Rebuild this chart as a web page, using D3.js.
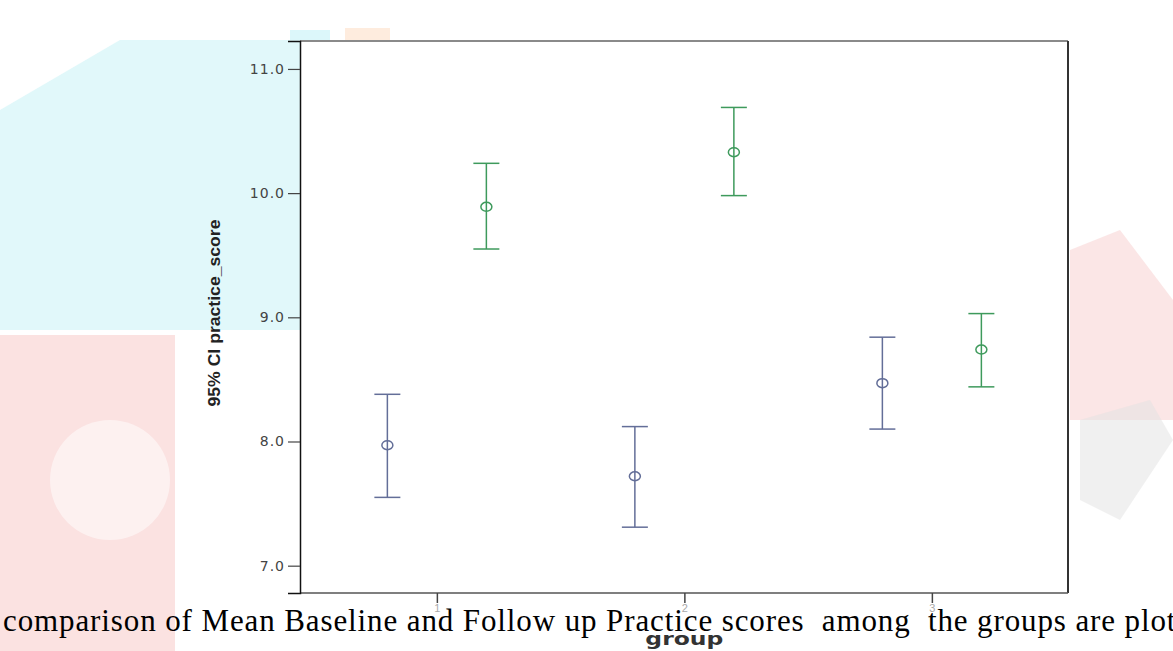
<!DOCTYPE html>
<html>
<head>
<meta charset="utf-8">
<script src="https://cdn.jsdelivr.net/npm/d3@7"></script>
<style>
  body { margin: 0; background: #fff; overflow: hidden; }
  svg { display: block; }
</style>
</head>
<body>
<svg></svg>
<script>
var groups = [1, 2, 3];
var yTicks = [7.0, 8.0, 9.0, 10.0, 11.0];

// baseline (blue) and follow up (green) means with 95% CI
var baseMean  = [7.97, 7.72, 8.47];
var baseLower = [7.55, 7.31, 8.10];
var baseUpper = [8.38, 8.12, 8.84];

var followMean  = [9.89, 10.33, 8.74];
var followLower = [9.55, 9.98, 8.44];
var followUpper = [10.24, 10.69, 9.03];

var caption = "comparison of Mean Baseline and Follow up Practice scores  among  the groups are plott";

var screen = { width: 1173, height: 651 };
var margins = { top: 41, left: 300, right: 105, bottom: 58 };

var width = screen.width - margins.left - margins.right;
var height = screen.height - margins.top - margins.bottom;

var svg = d3.select("svg")
  .attr("width", screen.width)
  .attr("height", screen.height);

// faint watermark shapes in the background
var wm = svg.append("g").classed("watermark", true);
wm.append("path")
  .attr("d", "M0,110 L120,40 L300,40 L300,330 L0,330 Z")
  .attr("fill", "#c4f1f6").attr("opacity", 0.5);
wm.append("path")
  .attr("d", "M0,335 L175,335 L175,651 L0,651 Z")
  .attr("fill", "#f7c6c4").attr("opacity", 0.5);
wm.append("circle")
  .attr("cx", 110).attr("cy", 480).attr("r", 60)
  .attr("fill", "#fff").attr("opacity", 0.5);
wm.append("path")
  .attr("d", "M1070,250 L1120,230 L1173,300 L1173,420 L1070,420 Z")
  .attr("fill", "#f6c0c0").attr("opacity", 0.4);
wm.append("path")
  .attr("d", "M1080,420 L1150,400 L1173,440 L1120,520 L1080,500 Z")
  .attr("fill", "#e2e2e2").attr("opacity", 0.5);
wm.append("rect")
  .attr("x", 345).attr("y", 28).attr("width", 45).attr("height", 12)
  .attr("fill", "#fde0c8").attr("opacity", 0.6);
wm.append("rect")
  .attr("x", 290).attr("y", 30).attr("width", 40).attr("height", 10)
  .attr("fill", "#c4f1f6").attr("opacity", 0.6);

var xScale = d3.scaleLinear()
  .domain([0.447, 3.55])
  .range([0, width]);

var yScale = d3.scaleLinear()
  .domain([6.78, 11.225])
  .range([height, 0]);

var plot = svg.append("g")
  .attr("transform", "translate(" + margins.left + "," + margins.top + ")");

plot.append("rect")
  .attr("width", width).attr("height", height)
  .attr("fill", "#fff");

// frame
plot.append("line").attr("x1", 0).attr("x2", width).attr("y1", 0).attr("y2", 0)
  .attr("stroke", "#8a8a8a").attr("stroke-width", 2);
plot.append("line").attr("x1", width).attr("x2", width).attr("y1", 0).attr("y2", height)
  .attr("stroke", "#333").attr("stroke-width", 2);
plot.append("line").attr("x1", 0).attr("x2", width).attr("y1", height).attr("y2", height)
  .attr("stroke", "#555").attr("stroke-width", 1.5);

var yAxis = plot.append("g")
  .call(d3.axisLeft(yScale).tickValues(yTicks).tickFormat(d3.format(".1f")).tickSize(12).tickPadding(3));
yAxis.select(".domain").attr("stroke", "#111").attr("stroke-width", 1.5);
yAxis.selectAll(".tick line").attr("stroke", "#444").attr("stroke-width", 1.2);
yAxis.selectAll("text")
  .attr("font-family", "DejaVu Sans, Verdana, sans-serif")
  .attr("font-size", 14)
  .style("letter-spacing", "1px")
  .attr("fill", "#444");

var xAxis = plot.append("g")
  .attr("transform", "translate(0," + height + ")")
  .call(d3.axisBottom(xScale).tickValues(groups).tickFormat(d3.format("d")).tickSize(10).tickPadding(1));
xAxis.select(".domain").remove();
xAxis.selectAll(".tick line").attr("stroke", "#444").attr("stroke-width", 1.5);
xAxis.selectAll("text")
  .attr("font-family", "Liberation Sans, Arial, sans-serif")
  .attr("font-size", 11).attr("fill", "#aaa");

function drawSeries(means, lower, upper, offset, color) {
  var rows = groups.map(function(g, i) {
    return { g: g, m: means[i], lo: lower[i], hi: upper[i] };
  });
  var s = plot.append("g").selectAll("g")
    .data(rows)
    .enter()
    .append("g")
    .attr("transform", function(d) { return "translate(" + xScale(d.g + offset) + ",0)"; });

  s.append("line")
    .attr("y1", function(d) { return yScale(d.hi); })
    .attr("y2", function(d) { return yScale(d.lo); })
    .attr("stroke", color).attr("stroke-width", 1.5);
  s.append("line")
    .attr("x1", -13).attr("x2", 13)
    .attr("y1", function(d) { return yScale(d.hi); })
    .attr("y2", function(d) { return yScale(d.hi); })
    .attr("stroke", color).attr("stroke-width", 1.5);
  s.append("line")
    .attr("x1", -13).attr("x2", 13)
    .attr("y1", function(d) { return yScale(d.lo); })
    .attr("y2", function(d) { return yScale(d.lo); })
    .attr("stroke", color).attr("stroke-width", 1.5);
  s.append("ellipse")
    .attr("cy", function(d) { return yScale(d.m); })
    .attr("rx", 5.5).attr("ry", 4.5)
    .attr("fill", "none")
    .attr("stroke", color).attr("stroke-width", 1.5);
}

drawSeries(baseMean, baseLower, baseUpper, -0.2, "#636e98");
drawSeries(followMean, followLower, followUpper, 0.2, "#3e9a5c");

// y axis title
svg.append("text")
  .attr("transform", "translate(220,313) rotate(-90)")
  .attr("text-anchor", "middle")
  .attr("font-family", "Liberation Sans Narrow, Arial Narrow, Liberation Sans, sans-serif")
  .attr("font-weight", "bold")
  .attr("font-size", 17)
  .attr("textLength", 187)
  .attr("lengthAdjust", "spacingAndGlyphs")
  .attr("fill", "#222")
  .text("95% CI practice_score");

// caption text overlaid on the chart
svg.append("text")
  .attr("x", 3).attr("y", 631)
  .attr("xml:space", "preserve")
  .style("white-space", "pre")
  .attr("font-family", "Liberation Serif, Times New Roman, serif")
  .attr("font-size", 31)
  .attr("textLength", 1182)
  .attr("lengthAdjust", "spacing")
  .attr("fill", "#000")
  .text(caption);

// x axis title
svg.append("text")
  .attr("x", xScale(2) + margins.left).attr("y", 645)
  .attr("text-anchor", "middle")
  .attr("font-family", "DejaVu Sans, Verdana, sans-serif")
  .attr("font-weight", "bold")
  .attr("font-size", 17)
  .attr("textLength", 78)
  .attr("lengthAdjust", "spacingAndGlyphs")
  .attr("fill", "#333")
  .text("group");
</script>
</body>
</html>
